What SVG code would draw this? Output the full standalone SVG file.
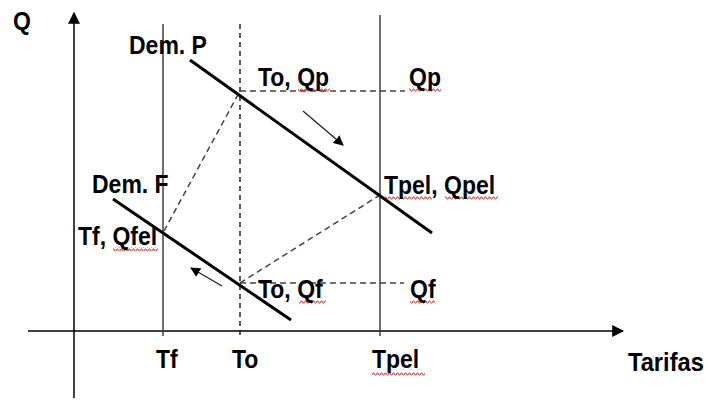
<svg xmlns="http://www.w3.org/2000/svg" width="708" height="402" viewBox="0 0 708 402">
<defs>
<style>
.lbl{font-family:"Liberation Sans",Arial,sans-serif;font-weight:bold;font-size:23px;fill:#000}
.axis{stroke:#000;stroke-width:1.5;fill:none}
.vline{stroke:#333;stroke-width:1.4;fill:none}
.dash{stroke:#000;stroke-width:1.3;stroke-dasharray:5,4;fill:none}
.gdash{stroke:#444;stroke-width:1.5;stroke-dasharray:6,4;fill:none}
.dem{stroke:#000;stroke-width:3;fill:none}
.arr{stroke:#222;stroke-width:1.3;fill:none}
</style>
<marker id="ah" viewBox="0 0 10 10" refX="9" refY="5" markerWidth="10" markerHeight="10" markerUnits="userSpaceOnUse" orient="auto">
<path d="M0,0 L10,5 L0,10 z" fill="#000"/>
</marker>
<marker id="ahs" viewBox="0 0 10 10" refX="9" refY="5" markerWidth="12" markerHeight="12" markerUnits="userSpaceOnUse" orient="auto">
<path d="M0,0 L10,5 L0,10 z" fill="#000"/>
</marker>
<pattern id="sq" width="4" height="4" patternUnits="userSpaceOnUse">
<polyline points="0,3 1,1 2,1 3,3 4,3" fill="none" stroke="#e02020" stroke-width="0.9"/>
</pattern>
</defs>

<g id="connectors">
<line class="axis" x1="74" y1="398" x2="74" y2="13" marker-end="url(#ahs)"/>
<line class="axis" x1="28" y1="331" x2="623" y2="331" marker-end="url(#ahs)"/>
<line class="vline" x1="163" y1="24" x2="163" y2="336"/>
<line class="vline" x1="380" y1="15" x2="380" y2="336"/>
<line class="dash" x1="240" y1="24" x2="240" y2="336"/>
<line class="gdash" x1="240" y1="91" x2="405" y2="91"/>
<line class="gdash" x1="240" y1="283" x2="404" y2="283"/>
<line class="gdash" x1="164" y1="231" x2="240" y2="91"/>
<line class="gdash" x1="240" y1="283" x2="380" y2="195"/>
<line class="dem" x1="190" y1="60" x2="432" y2="233"/>
<line class="dem" x1="113" y1="199" x2="291" y2="320"/>
<line class="arr" x1="303" y1="111" x2="343" y2="145" marker-end="url(#ah)"/>
<line class="arr" x1="222" y1="286" x2="191" y2="268" marker-end="url(#ah)"/>
</g>

<g id="squiggles" fill="url(#sq)">
<rect x="298" y="88" width="32" height="4"/>
<rect x="409" y="88" width="32" height="4"/>
<rect x="385" y="196" width="47" height="4"/>
<rect x="445" y="196" width="53" height="4"/>
<rect x="113" y="247" width="45" height="4"/>
<rect x="299" y="300" width="27" height="4"/>
<rect x="410" y="300" width="25" height="4"/>
<rect x="372" y="372" width="53" height="4"/>
</g>

<g id="labels">
<g id="lbl-Q"><text class="lbl" transform="translate(13,30) scale(1,1.15)">Q</text></g>
<g id="lbl-demP"><text class="lbl" transform="translate(129,54) scale(1,1.15)">Dem. P</text></g>
<g id="lbl-demF"><text class="lbl" transform="translate(92,193) scale(1,1.15)">Dem. F</text></g>
<g id="lbl-ToQp"><text class="lbl" transform="translate(258,86) scale(1,1.15)">To, Qp</text></g>
<g id="lbl-Qp"><text class="lbl" transform="translate(409,86) scale(1,1.15)">Qp</text></g>
<g id="lbl-TpelQpel"><text class="lbl" transform="translate(384,194) scale(1,1.15)">Tpel, Qpel</text></g>
<g id="lbl-TfQfel"><text class="lbl" transform="translate(78,245) scale(1,1.15)">Tf, Qfel</text></g>
<g id="lbl-ToQf"><text class="lbl" transform="translate(258,298) scale(1,1.15)">To, Qf</text></g>
<g id="lbl-Qf"><text class="lbl" transform="translate(410,298) scale(1,1.15)">Qf</text></g>
<g id="lbl-Tf"><text class="lbl" transform="translate(156,368) scale(1,1.15)">Tf</text></g>
<g id="lbl-To"><text class="lbl" transform="translate(232,368) scale(1,1.15)">To</text></g>
<g id="lbl-Tpel"><text class="lbl" transform="translate(372,368) scale(1,1.15)">Tpel</text></g>
<g id="lbl-Tarifas"><text class="lbl" transform="translate(628,371) scale(1.03,1.15)">Tarifas</text></g>
</g>
</svg>
